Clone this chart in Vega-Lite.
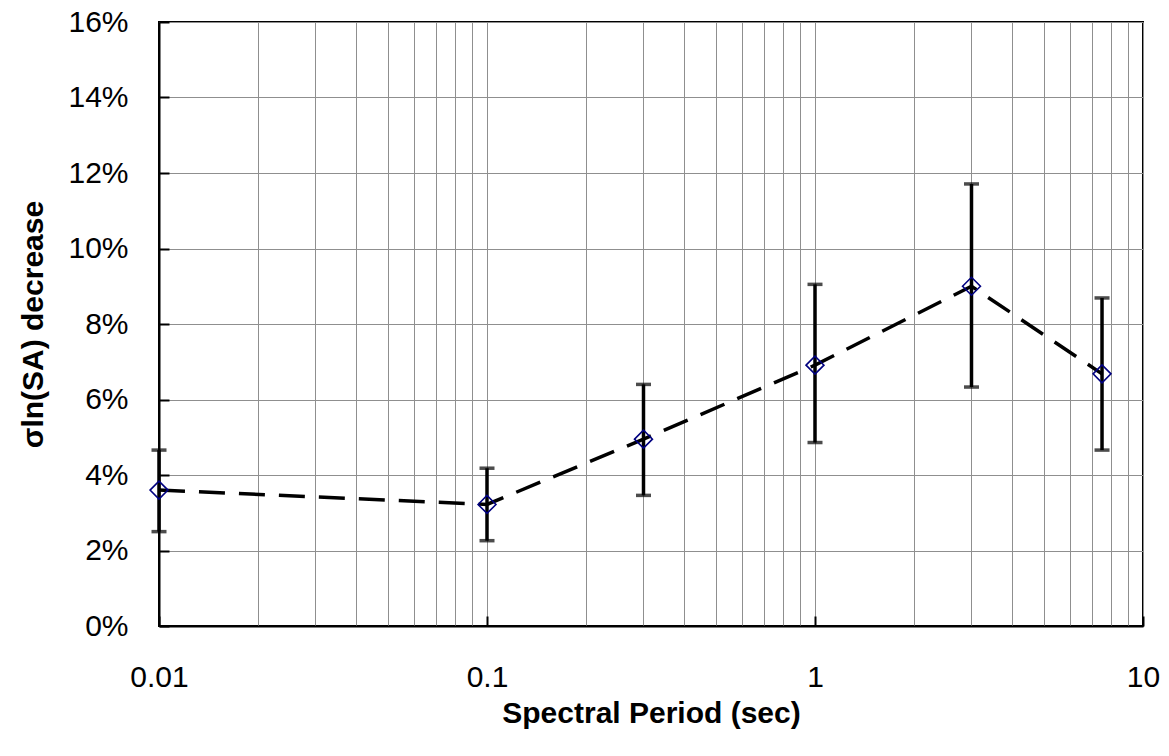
{
  "$schema": "https://vega.github.io/schema/vega-lite/v6.json",
  "autosize": {"type": "none"},
  "width": 984,
  "height": 604,
  "padding": {"left": 159, "top": 22, "right": 26, "bottom": 130},
  "background": "white",
  "config": {
    "font": "Liberation Sans",
    "view": {"stroke": "#000000", "strokeWidth": 2},
    "axis": {
      "gridColor": "#8f8f8f",
      "gridWidth": 1,
      "domainColor": "#000000",
      "domainWidth": 2,
      "labelColor": "#000000",
      "titleColor": "#000000",
      "labelFont": "Liberation Sans",
      "titleFont": "Liberation Sans"
    }
  },
  "data": {
    "values": [
      {"period": 0.01, "decrease": 0.036, "lo": 0.025, "hi": 0.0466},
      {"period": 0.1, "decrease": 0.0322, "lo": 0.0226, "hi": 0.0418},
      {"period": 0.3, "decrease": 0.0495, "lo": 0.0346, "hi": 0.064},
      {"period": 1, "decrease": 0.0691, "lo": 0.0486, "hi": 0.0905},
      {"period": 3, "decrease": 0.09, "lo": 0.0633, "hi": 0.1171},
      {"period": 7.5, "decrease": 0.0668, "lo": 0.0466, "hi": 0.0869}
    ]
  },
  "encoding": {
    "x": {
      "field": "period",
      "type": "quantitative",
      "scale": {"type": "log", "domain": [0.01, 10], "nice": false},
      "axis": {
        "title": "Spectral Period (sec)",
        "titleFontSize": 30,
        "titleFontWeight": "bold",
        "titlePadding": 6,
        "labelFontSize": 30,
        "labelPadding": 46,
        "labelFlush": false,
        "values": [0.01, 0.02, 0.03, 0.04, 0.05, 0.06, 0.07, 0.08, 0.09, 0.1, 0.2, 0.3, 0.4, 0.5, 0.6, 0.7, 0.8, 0.9, 1, 2, 3, 4, 5, 6, 7, 8, 9, 10],
        "labelExpr": "datum.value == 0.01 ? '0.01' : datum.value == 0.1 ? '0.1' : datum.value == 1 ? '1' : datum.value == 10 ? '10' : ''",
        "ticks": true,
        "tickSize": -10,
        "tickWidth": 2,
        "tickColor": {
          "condition": {"test": "datum.value == 0.01 || datum.value == 0.1 || datum.value == 1 || datum.value == 10", "value": "#000000"},
          "value": "transparent"
        },
        "grid": true
      }
    },
    "y": {
      "field": "decrease",
      "type": "quantitative",
      "scale": {"domain": [0, 0.16], "nice": false},
      "axis": {
        "title": "σln(SA)  decrease",
        "titleFontSize": 30,
        "titleFontWeight": "bold",
        "titlePadding": 19,
        "labelFontSize": 30,
        "labelPadding": 41,
        "values": [0, 0.02, 0.04, 0.06, 0.08, 0.1, 0.12, 0.14, 0.16],
        "format": ".0%",
        "ticks": true,
        "tickSize": -10,
        "tickWidth": 2,
        "tickColor": "#000000",
        "grid": true
      }
    }
  },
  "layer": [
    {
      "mark": {"type": "rule", "color": "#000000", "strokeWidth": 3.5},
      "encoding": {"y": {"field": "lo", "type": "quantitative"}, "y2": {"field": "hi"}}
    },
    {
      "mark": {"type": "tick", "orient": "horizontal", "color": "#000000", "size": 15, "thickness": 3.5},
      "encoding": {"y": {"field": "lo", "type": "quantitative"}}
    },
    {
      "mark": {"type": "tick", "orient": "horizontal", "color": "#000000", "size": 15, "thickness": 3.5},
      "encoding": {"y": {"field": "hi", "type": "quantitative"}}
    },
    {
      "mark": {"type": "line", "color": "#000000", "strokeWidth": 3.5, "strokeDash": [26, 14]},
      "encoding": {}
    },
    {
      "mark": {"type": "point", "shape": "diamond", "filled": false, "stroke": "#000080", "strokeWidth": 1.6, "size": 320, "opacity": 1},
      "encoding": {}
    }
  ]
}
